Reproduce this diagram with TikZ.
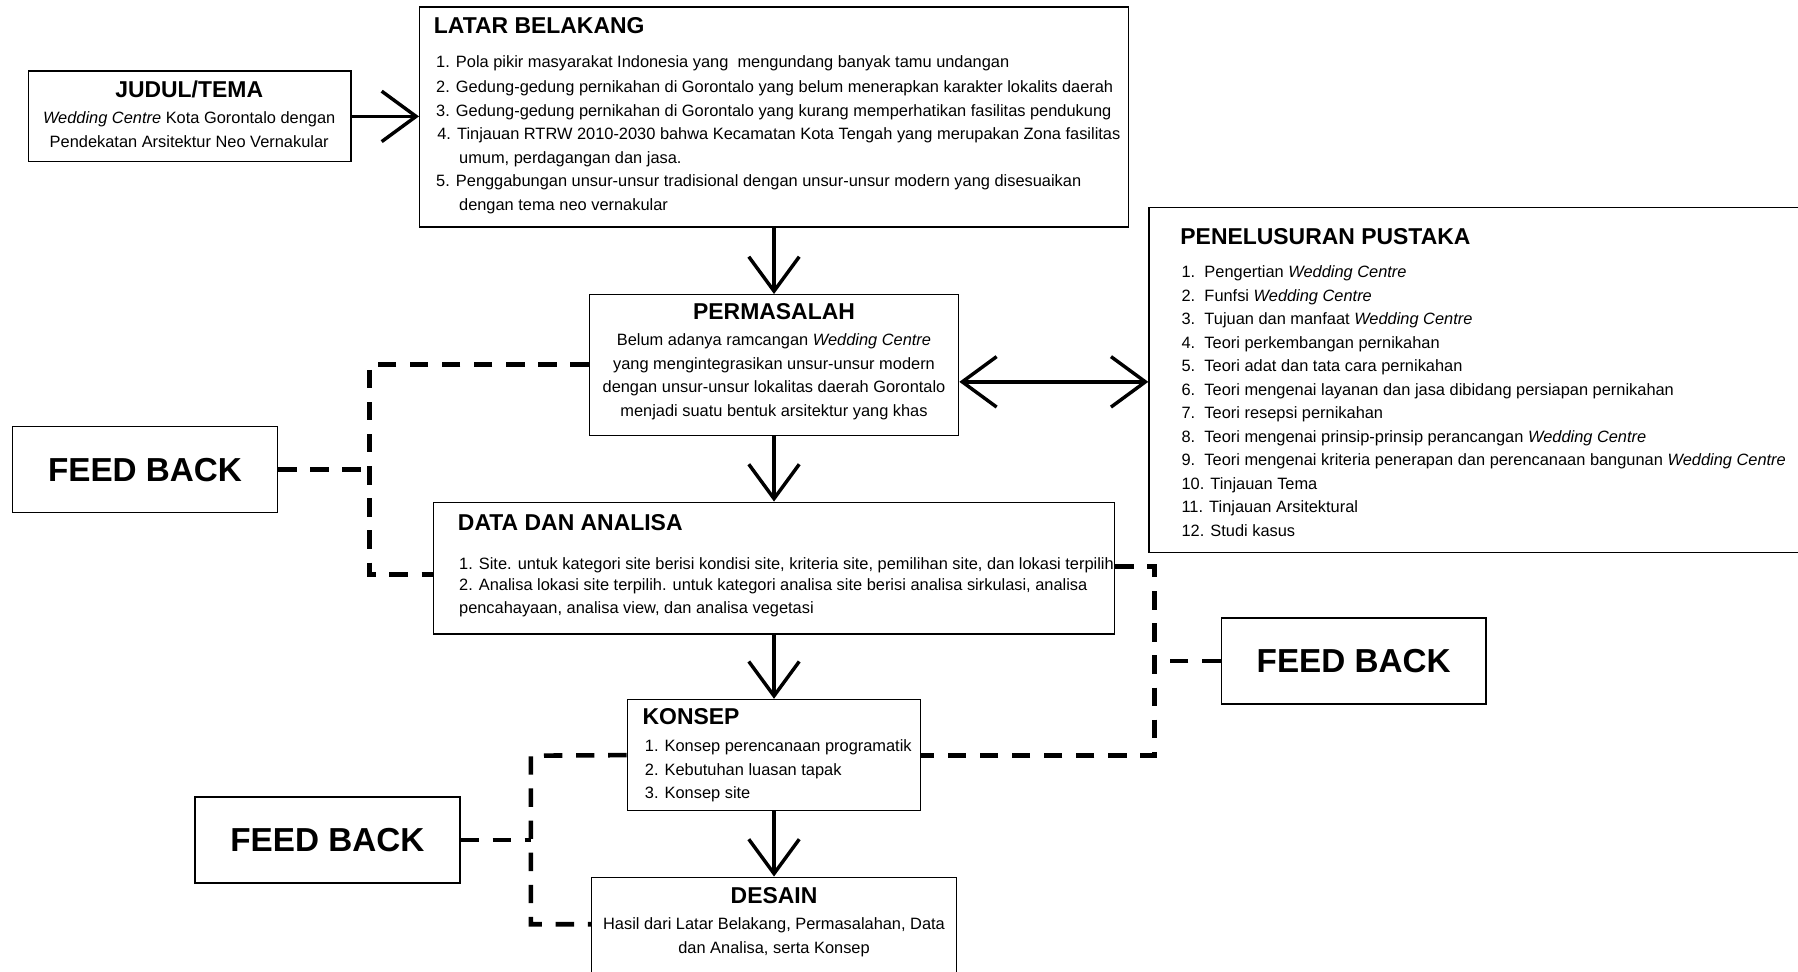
\documentclass[tikz,border=0pt]{standalone}
\usepackage{fontspec}
\setmainfont{Liberation Sans}
\usetikzlibrary{arrows.meta,fit,calc}
\tikzset{
 box/.style={draw, line width=0.6pt, inner sep=0pt},
 body/.style={font=\fontsize{7.15}{8}\selectfont, inner sep=0pt, anchor=mid west},
 bodyc/.style={body, anchor=mid},
 ttl/.style={font=\bfseries\fontsize{10}{12}\selectfont, inner sep=0pt, anchor=west},
 ttlc/.style={ttl, anchor=center},
 fbtxt/.style={font=\bfseries\fontsize{14.5}{16}\selectfont},
 flow/.style={line width=1.5pt, -{Straight Barb[length=15pt,width=22pt]}},
 flowboth/.style={line width=1.5pt, {Straight Barb[length=15pt,width=22pt]}-{Straight Barb[length=15pt,width=22pt]}},
 fbline/.style={line width=2pt, dash pattern=on 8pt off 6pt},
}
\newcommand{\wc}{\textit{Wedding Centre}}
\newcommand{\nb}[1]{\makebox[10pt][l]{#1}}
\begin{document}
\begin{tikzpicture}[x=0.5pt,y=-0.5pt]
\useasboundingbox (0,0) rectangle (1568,847);
% boxes
\node[box, fit={(25,62) (306,141)}] (judul) {};
\node[box, fit={(366,6) (984,198)}] (latar) {};
\node[box, fit={(514,257) (836,380)}] (perm) {};
\node[box, fit={(1002,181) (1580,482)}] (pustaka) {};
\node[box, fit={(378,438) (972,553)}] (data) {};
\node[box, fit={(547,610) (803,707)}] (konsep) {};
\node[box, fit={(516,765) (834,860)}] (desain) {};
\node[box, fit={(11,372) (242,447)}] (fbL) {};
\node[box, fit={(1065,539) (1296,614)}] (fbR) {};
\node[box, fit={(170,695) (401,770)}] (fbB) {};
\node[fbtxt] (fbLt) at (fbL.center) {FEED BACK};
\node[fbtxt] (fbRt) at (fbR.center) {FEED BACK};
\node[fbtxt] (fbBt) at (fbB.center) {FEED BACK};
% JUDUL
\node[ttlc] (judult) at (165,78) {JUDUL/TEMA};
\node[bodyc] (judul1) at (165,102) {\wc{} Kota Gorontalo dengan};
\node[bodyc] (judul2) at (165,123) {Pendekatan Arsitektur Neo Vernakular};
% LATAR
\node[ttl] (latart) at (378,22) {LATAR BELAKANG};
\foreach \yy/\xx/\tt [count=\i] in {
 54/380/{1. Pola pikir masyarakat Indonesia yang\ \ mengundang banyak tamu undangan},
 75/380/{2. Gedung-gedung pernikahan di Gorontalo yang belum menerapkan karakter lokalits daerah},
 96/380/{3. Gedung-gedung pernikahan di Gorontalo yang kurang memperhatikan fasilitas pendukung},
 116/381/{4. Tinjauan RTRW 2010-2030 bahwa Kecamatan Kota Tengah yang merupakan Zona fasilitas},
 137/400/{umum, perdagangan dan jasa.},
 157/380/{5. Penggabungan unsur-unsur tradisional dengan unsur-unsur modern yang disesuaikan},
 178/400/{dengan tema neo vernakular}}
 \node[body] (lb\i) at (\xx,\yy) {\tt};
% PERMASALAH
\node[ttlc] (permt) at (675,272) {PERMASALAH};
\foreach \yy/\tt [count=\i] in {
 296/{Belum adanya ramcangan \wc},
 317/{yang mengintegrasikan unsur-unsur modern},
 337/{dengan unsur-unsur lokalitas daerah Gorontalo},
 358/{menjadi suatu bentuk arsitektur yang khas}}
 \node[bodyc] (pm\i) at (675,\yy) {\tt};
% PUSTAKA
\node[ttl] (pustakat) at (1029,206) {PENELUSURAN PUSTAKA};
\foreach \yy/\tt [count=\i] in {
 237/{\nb{1.}Pengertian \wc},
 258/{\nb{2.}Funfsi \wc},
 278/{\nb{3.}Tujuan dan manfaat \wc},
 299/{\nb{4.}Teori perkembangan pernikahan},
 319/{\nb{5.}Teori adat dan tata cara pernikahan},
 340/{\nb{6.}Teori mengenai layanan dan jasa dibidang persiapan pernikahan},
 360/{\nb{7.}Teori resepsi pernikahan},
 381/{\nb{8.}Teori mengenai prinsip-prinsip perancangan \wc},
 401/{\nb{9.}Teori mengenai kriteria penerapan dan perencanaan bangunan \wc},
 422/{10. Tinjauan Tema},
 442/{11. Tinjauan Arsitektural},
 463/{12. Studi kasus}}
 \node[body] (pp\i) at (1030,\yy) {\tt};
% DATA
\node[ttl] (datat) at (399,456) {DATA DAN ANALISA};
\foreach \yy/\tt [count=\i] in {
 491/{1. Site. untuk kategori site berisi kondisi site, kriteria site, pemilihan site, dan lokasi terpilih},
 510/{2. Analisa lokasi site terpilih. untuk kategori analisa site berisi analisa sirkulasi, analisa},
 530/{pencahayaan, analisa view, dan analisa vegetasi}}
 \node[body] (da\i) at (400,\yy) {\tt};
% KONSEP
\node[ttl] (konsept) at (560,625) {KONSEP};
\foreach \yy/\tt [count=\i] in {
 650/{1. Konsep perencanaan programatik},
 671/{2. Kebutuhan luasan tapak},
 691/{3. Konsep site}}
 \node[body] (ko\i) at (562,\yy) {\tt};
% DESAIN
\node[ttlc] (desaint) at (675,781) {DESAIN};
\node[bodyc] (de1) at (675,805) {Hasil dari Latar Belakang, Permasalahan, Data};
\node[bodyc] (de2) at (675,826) {dan Analisa, serta Konsep};
% flow arrows
\draw[flow] (judul.east) -- (judul.east -| latar.west);
\draw[flow] (latar.south -| perm.north) -- (perm.north);
\draw[flow] (perm.south) -- (perm.south |- data.north);
\draw[flow] (data.south -| konsep.north) -- (konsep.north);
\draw[flow] (konsep.south) -- (konsep.south |- desain.north);
\draw[flowboth] (perm.east |- 0,333) -- (pustaka.west |- 0,333);
% feedback lines
\coordinate (la) at (322,318);
\coordinate (lb) at (322,501);
\draw[fbline] (perm.west |- la) -- (la) -- (lb) -- (lb -| data.west);
\draw[fbline] (fbL.east) -- (fbL.east -| la);
\coordinate (ra) at (1007,494);
\coordinate (rb) at (1007,659);
\draw[fbline] (ra -| data.east) -- (ra) -- (rb) -- (rb -| konsep.east);
\draw[fbline] (fbR.west) -- (fbR.west -| ra);
\coordinate (ba) at (463,659);
\coordinate (bb) at (463,806);
\draw[fbline] (konsep.west) -- (ba) -- (bb) -- (bb -| desain.west);
\draw[fbline] (fbB.east) -- (fbB.east -| ba);
\end{tikzpicture}
\end{document}
